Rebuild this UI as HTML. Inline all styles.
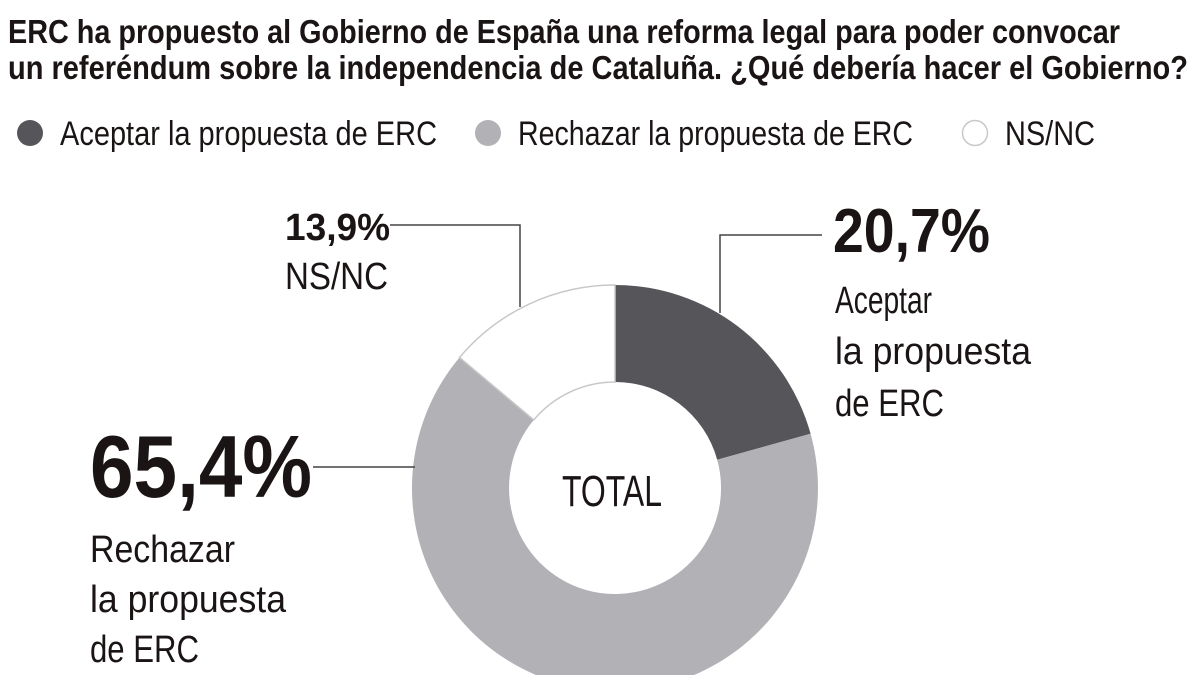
<!DOCTYPE html>
<html><head><meta charset="utf-8"><style>
html,body{margin:0;padding:0;background:#fff;}
svg{display:block;}
text{font-family:"Liberation Sans Narrow","Liberation Sans",sans-serif;fill:#1a1414;}
.b{font-weight:bold;}
</style></head><body>
<svg width="1200" height="675" viewBox="0 0 1200 675" xmlns="http://www.w3.org/2000/svg">
<text class="b" x="8" y="43" font-size="33" textLength="1112" lengthAdjust="spacingAndGlyphs">ERC ha propuesto al Gobierno de España una reforma legal para poder convocar</text>
<text class="b" x="8" y="79" font-size="33" textLength="1180" lengthAdjust="spacingAndGlyphs">un referéndum sobre la independencia de Cataluña. ¿Qué debería hacer el Gobierno?</text>

<circle cx="30" cy="133" r="13" fill="#56565a"/>
<text x="60" y="145" font-size="34" textLength="377" lengthAdjust="spacingAndGlyphs">Aceptar la propuesta de ERC</text>
<circle cx="488" cy="133" r="13" fill="#b2b2b6"/>
<text x="518" y="145" font-size="34" textLength="395" lengthAdjust="spacingAndGlyphs">Rechazar la propuesta de ERC</text>
<circle cx="975" cy="133" r="12.5" fill="#fff" stroke="#c8c8c8" stroke-width="1.5"/>
<text x="1005" y="145" font-size="34" textLength="90" lengthAdjust="spacingAndGlyphs">NS/NC</text>

<path d="M615,285 A203,203 0 0 1 810.6,433.8 L717.2,459.7 A106,106 0 0 0 615,382 Z" fill="#56565a"/>
<path d="M810.6,433.8 A203,203 0 1 1 459.5,357.5 L533.8,419.9 A106,106 0 1 0 717.2,459.7 Z" fill="#b2b2b6"/>
<path d="M459.5,357.5 A203,203 0 0 1 615,285 L615,382 A106,106 0 0 0 533.8,419.9 Z" fill="#fff" stroke="#c8c8c8" stroke-width="1.5"/>
<text x="612" y="506" font-size="44" text-anchor="middle" textLength="100" lengthAdjust="spacingAndGlyphs">TOTAL</text>

<polyline points="390,225 520,225 520,307" fill="none" stroke="#444" stroke-width="1.5"/>
<polyline points="822,235 720,235 720,313" fill="none" stroke="#444" stroke-width="1.5"/>
<line x1="313" y1="467" x2="415" y2="467" stroke="#444" stroke-width="1.5"/>

<text class="b" x="285" y="240" font-size="38" textLength="105" lengthAdjust="spacingAndGlyphs">13,9%</text>
<text x="285" y="289" font-size="38" textLength="103" lengthAdjust="spacingAndGlyphs">NS/NC</text>

<text class="b" x="833" y="252" font-size="62" textLength="157" lengthAdjust="spacingAndGlyphs">20,7%</text>
<text x="835" y="313" font-size="38" textLength="97" lengthAdjust="spacingAndGlyphs">Aceptar</text>
<text x="835" y="364" font-size="38" textLength="196" lengthAdjust="spacingAndGlyphs">la propuesta</text>
<text x="835" y="416" font-size="38" textLength="109" lengthAdjust="spacingAndGlyphs">de ERC</text>

<text class="b" x="90" y="497" font-size="88" textLength="222" lengthAdjust="spacingAndGlyphs">65,4%</text>
<text x="90" y="562" font-size="38" textLength="145" lengthAdjust="spacingAndGlyphs">Rechazar</text>
<text x="90" y="612" font-size="38" textLength="196" lengthAdjust="spacingAndGlyphs">la propuesta</text>
<text x="90" y="662" font-size="38" textLength="109" lengthAdjust="spacingAndGlyphs">de ERC</text>
</svg>
</body></html>
